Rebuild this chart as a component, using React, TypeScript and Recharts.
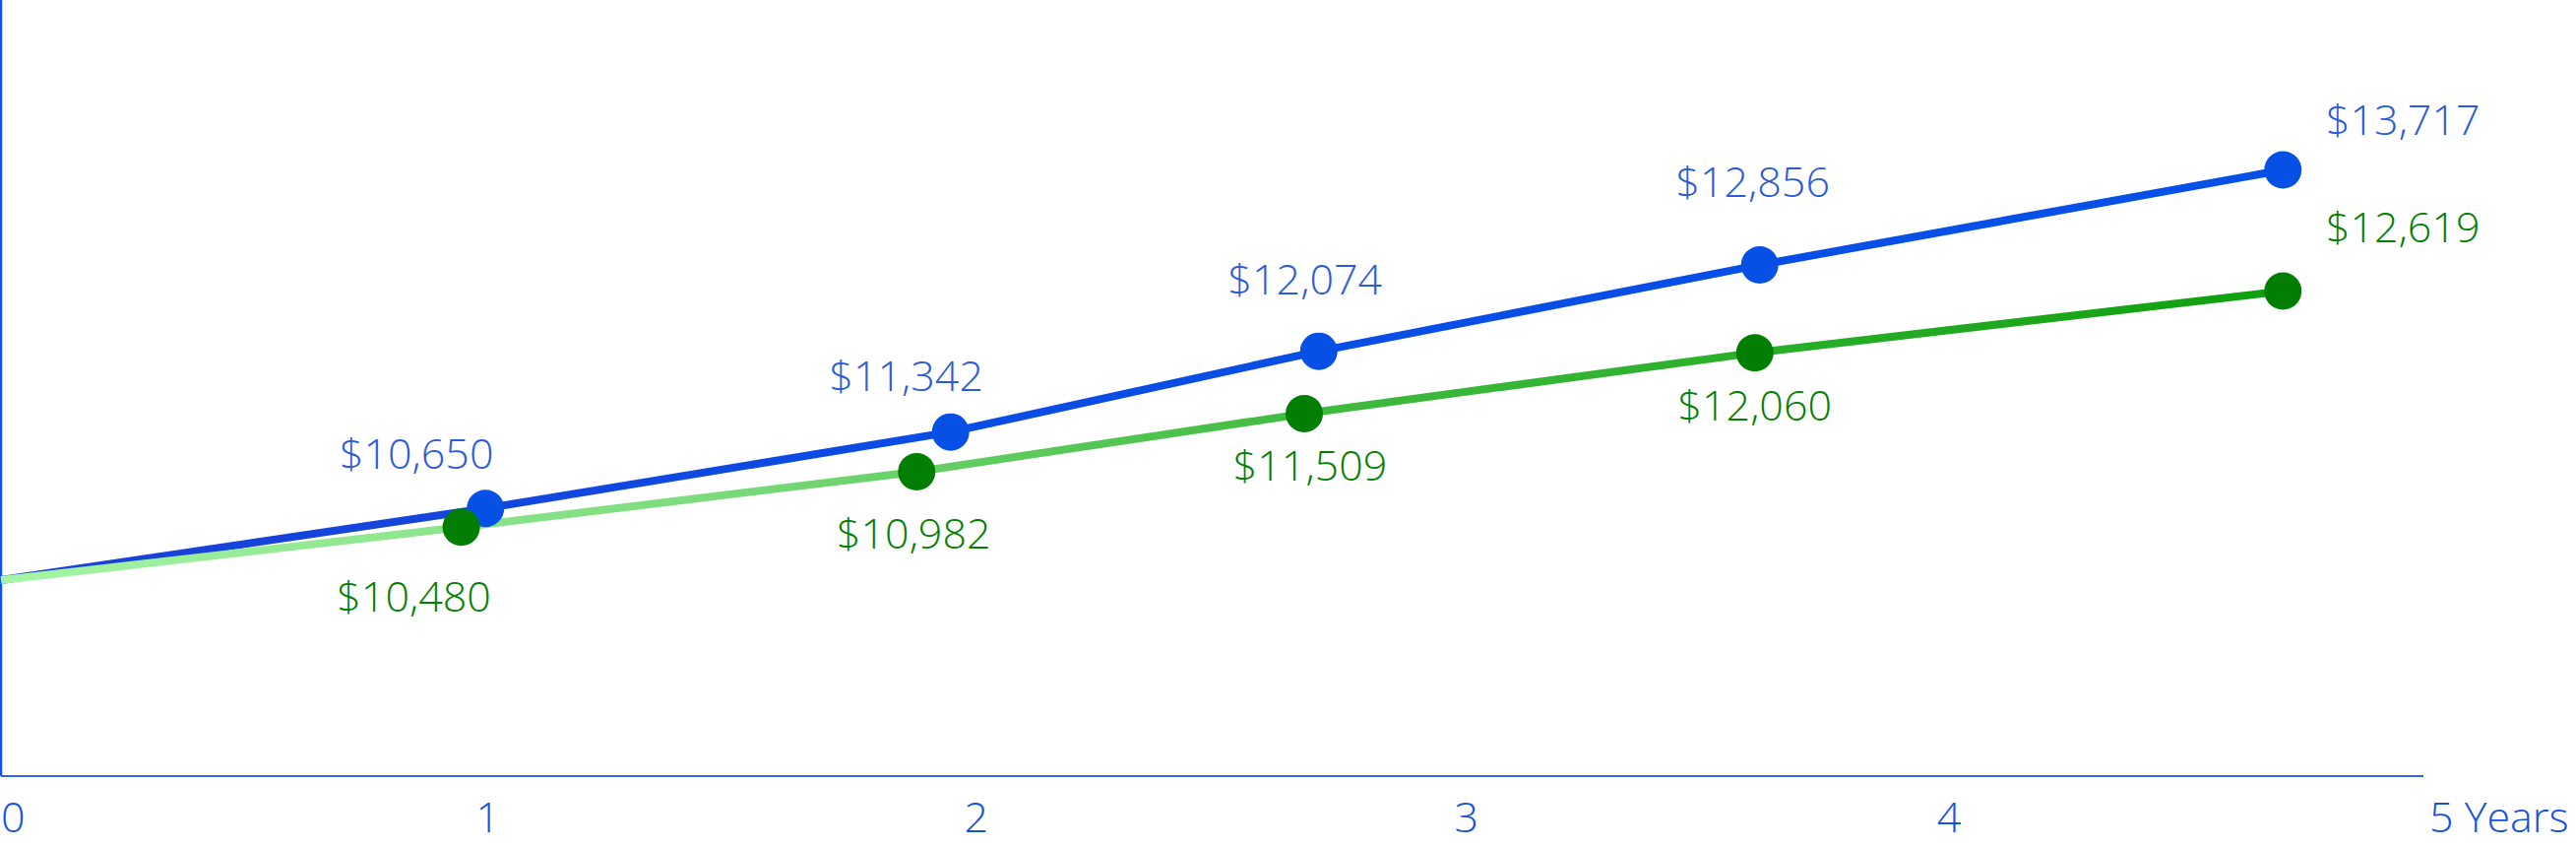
import { LineChart, Line, XAxis, YAxis, LabelList, ReferenceLine } from 'recharts';

const yearTicks = [0, 1, 2, 3, 4, 5];

const blueYears = [0, 1.0, 1.96, 2.72, 3.63, 4.71];
const blueValues = [10000, 10650, 11342, 12074, 12856, 13717];

const greenYears = [0, 0.95, 1.89, 2.69, 3.62, 4.71];
const greenValues = [10000, 10480, 10982, 11509, 12060, 12619];

const blueData = blueYears.map((year, i) => ({ year, value: blueValues[i] }));
const greenData = greenYears.map((year, i) => ({ year, value: greenValues[i] }));

// label placement around each dot: dx = text centre, dy = baseline
const blueLabelPos = [null, [-70, -40], [-45, -42], [-14, -58], [-7, -69], [122, -36]];
const greenLabelPos = [null, [-48, 86], [-3, 78], [6, 68], [0, 69], [122, -50]];
const tickShift = [0, -10, -6, 0, -2, 6];

const FONT = '"Open Sans", sans-serif';
const fmt = (v: number) => '$' + v.toLocaleString('en-US');

const YearTick = (props: any) => {
  const { x, y, payload } = props;
  return (
    <text
      x={x + tickShift[payload.value]}
      y={y + 57}
      fill="#1652e0"
      fontSize={43}
      fontFamily={FONT}
      fontWeight={300}
      textAnchor="start"
    >
      {payload.value === 5 ? '5 Years' : payload.value}
    </text>
  );
};

const makeDot = (fill: string) => (props: any) => {
  const { cx, cy, index } = props;
  if (index === 0) return <g key={`d${index}`} />;
  return <circle key={`d${index}`} cx={cx} cy={cy} r={19} fill={fill} />;
};

const makeLabel = (pos: any[], color: string) => (props: any) => {
  const { x, y, value, index } = props;
  const p = pos[index];
  if (!p) return null;
  return (
    <text
      key={`l${index}`}
      x={x + p[0]}
      y={y + p[1]}
      fill={color}
      fontSize={43}
      fontWeight={300}
      fontFamily={FONT}
      textAnchor="middle"
    >
      {fmt(value)}
    </text>
  );
};

export default function App() {
  return (
    <div style={{ width: 2617, height: 860 }}>
      <style>{`body{margin:0}`}</style>
      <LineChart width={2617} height={860} margin={{ top: 0, right: 155, bottom: 0, left: 1 }}>
        <defs>
          <linearGradient id="blueGrad" x1="0" y1="0" x2="1" y2="0">
            <stop offset="0" stopColor="#1b40d6" />
            <stop offset="0.4" stopColor="#0a4ce4" />
            <stop offset="1" stopColor="#0650e8" />
          </linearGradient>
          <linearGradient id="greenGrad" x1="0" y1="0" x2="1" y2="0">
            <stop offset="0" stopColor="#a5f5a5" />
            <stop offset="0.3" stopColor="#7ddc7d" />
            <stop offset="0.57" stopColor="#40bb40" />
            <stop offset="0.84" stopColor="#22aa22" />
            <stop offset="1" stopColor="#0e9f0e" />
          </linearGradient>
        </defs>
        <XAxis
          dataKey="year"
          type="number"
          domain={[0, 5]}
          ticks={yearTicks}
          height={72}
          tickLine={false}
          tickSize={0}
          tickMargin={0}
          tick={<YearTick />}
          axisLine={{ stroke: '#2f62ee', strokeWidth: 2 }}
          interval={0}
        />
        <YAxis type="number" domain={[8224, 15257]} hide />
        <ReferenceLine x={0} stroke="#0a52f2" strokeWidth={2.5} />
        <Line
          data={blueData}
          dataKey="value"
          type="linear"
          stroke="url(#blueGrad)"
          strokeWidth={8}
          dot={makeDot('#0650e6')}
          activeDot={false}
          isAnimationActive={false}
        >
          <LabelList dataKey="value" content={makeLabel(blueLabelPos, '#2c5ad9')} />
        </Line>
        <Line
          data={greenData}
          dataKey="value"
          type="linear"
          stroke="url(#greenGrad)"
          strokeWidth={8}
          dot={makeDot('#027f02')}
          activeDot={false}
          isAnimationActive={false}
        >
          <LabelList dataKey="value" content={makeLabel(greenLabelPos, '#037f03')} />
        </Line>
      </LineChart>
    </div>
  );
}
